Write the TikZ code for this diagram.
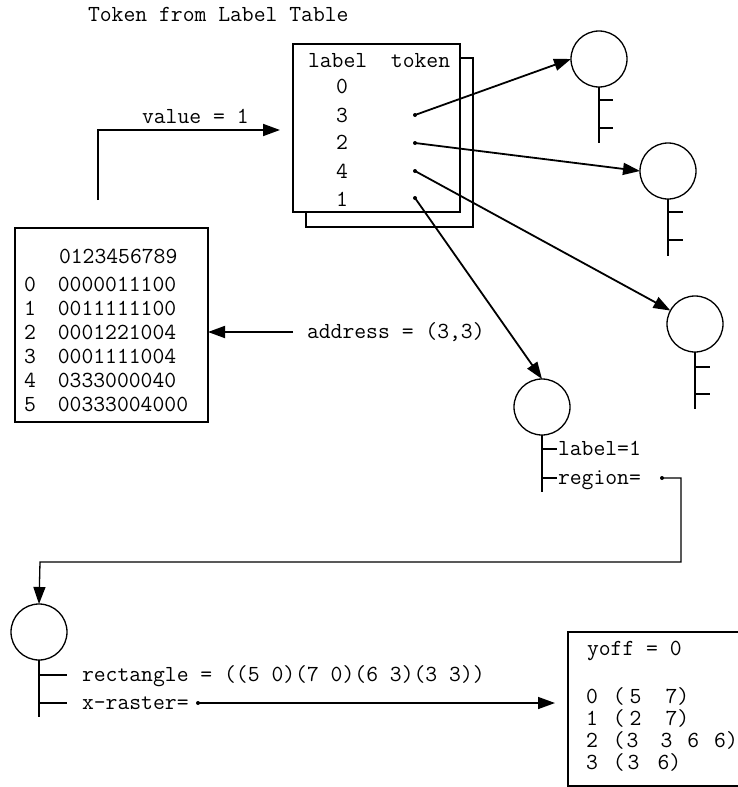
\documentclass[tikz,border=0pt]{standalone}
\usepackage{fontspec}
\usetikzlibrary{arrows.meta}
\newcommand\gapx[1]{\hspace*{#1pt}}
\begin{document}
\begin{tikzpicture}[x=1pt,y=-1pt,
  every node/.style={inner sep=0pt, outer sep=0pt},
  txt/.style={font=\ttfamily\fontsize{23}{27}\selectfont, anchor=base west},
  ctxt/.style={txt, anchor=base},
  ln/.style={line width=1.3pt},
  boxn/.style={draw, line width=1.3pt, fill=white, anchor=north west},
  arr/.style={line width=1.8pt, -{Triangle[length=17pt,width=12pt]}},
  tok/.style={circle, draw, line width=1.3pt, minimum size=56pt},
  dotn/.style={circle, fill, minimum size=4pt}]
\useasboundingbox (0,0) rectangle (738,787);
\clip (0,0) rectangle (738,787);
\fill[white] (0,0) rectangle (738,787);

% title
\node[txt] (title) at (88,21) {Token from Label Table};

% label table (two stacked sheets)
\node[boxn, minimum width=167pt, minimum height=169pt] (tabback) at (306,58) {};
\node[boxn, minimum width=167pt, minimum height=168pt] (tabfront) at (293,44) {};
\node[txt] (hdr) at (308,67) {label\ \ token};
\node[ctxt] (l0) at (342,93) {0};
\node[ctxt] (l3) at (342,122) {3};
\node[ctxt] (l2) at (342,149) {2};
\node[ctxt] (l4) at (342,178) {4};
\node[ctxt] (l1) at (342,206) {1};
\node[dotn] (d3) at (415,115) {};
\node[dotn] (d2) at (415,143) {};
\node[dotn] (d4) at (415,171) {};
\node[dotn] (d1) at (415,198) {};

% value arrow
\coordinate (vstart) at (98,200);
\coordinate (vend) at (280,130);
\draw[arr] (vstart) |- (vend);
\node[txt] (vtxt) at (142,123) {value = 1};

% grid box
\node[boxn, minimum width=193pt, minimum height=194pt] (grid) at (15,228) {};
\node[txt] (g0) at (59,263) {0123456789};
\node[txt] (r0) at (24,291) {0\gapx{22}0000011100};
\node[txt] (r1) at (24,315) {1\gapx{22}0011111100};
\node[txt] (r2) at (24,339) {2\gapx{22}0001221004};
\node[txt] (r3) at (24,363) {3\gapx{22}0001111004};
\node[txt] (r4) at (24,387) {4\gapx{22}0333000040};
\node[txt] (r5) at (24,411) {5\gapx{22}00333004000};

% address arrow
\coordinate (astart) at (293,332);
\draw[arr] (astart) -- (grid.east |- astart);
\node[txt] (atxt) at (307,338) {address = (3,3)};

% token circles
\node[tok] (c1) at (599,59) {};
\node[tok] (c2) at (668,171) {};
\node[tok] (c3) at (695,324) {};
\node[tok] (c4) at (542,407) {};
\node[tok] (c5) at (39,632) {};

% arrows from table to tokens
\draw[arr] (d3.center) -- (c1.west);
\draw[arr] (d2.center) -- (c2.west);
\draw[arr] (d4.center) -- (c3);
\draw[arr] (d1.center) -- (c4.north);

% stems with ticks
\foreach \c/\len/\ta/\tb/\tl in {c1/56/13/41/14, c2/57/13/41/15, c3/57/15/42/15, c4/57/14/43/15, c5/57/15/43/28}{
  \draw[ln] (\c.south) -- ++(0,\len);
  \draw[ln] (\c.south) ++(0,\ta) -- ++(\tl,0);
  \draw[ln] (\c.south) ++(0,\tb) -- ++(\tl,0);
}

% token 1 fields
\node[txt] (lab1) at (558,455) {label=1};
\node[txt] (reg) at (558,484) {region=};
\node[dotn] (rdot) at (662,478) {};
\coordinate (rc1) at (681,478);
\coordinate (rc2) at (681,562);
\coordinate (rc3) at (40,562);
\draw[arr, line width=1.3pt] (rdot.center) -- (rc1) -- (rc2) -- (rc3) -- (c5.north);

% region fields
\node[txt] (rect) at (82,681) {rectangle = ((5 0)(7 0)(6 3)(3 3))};
\node[txt] (xr) at (82,709) {x-raster=};
\node[dotn] (xdot) at (198,703) {};
\coordinate (xend) at (555,703);
\draw[arr, line width=1.5pt] (xdot.center) -- (xend);

% x-raster box
\node[boxn, minimum width=200pt, minimum height=154pt] (xbox) at (568,632) {};
\node[txt] (yoff) at (587,655) {yoff = 0};
\node[txt] (x0) at (586,703) {0\gapx{15}(\gapx{5}5\gapx{24}7)};
\node[txt] (x1) at (586,725) {1\gapx{15}(\gapx{5}2\gapx{24}7)};
\node[txt] (x2) at (586,747) {2\gapx{15}(\gapx{2}3\gapx{22}3\gapx{15}6\gapx{15}6)};
\node[txt] (x3) at (586,769) {3\gapx{15}(\gapx{3}3\gapx{18}6)};
\end{tikzpicture}
\end{document}
